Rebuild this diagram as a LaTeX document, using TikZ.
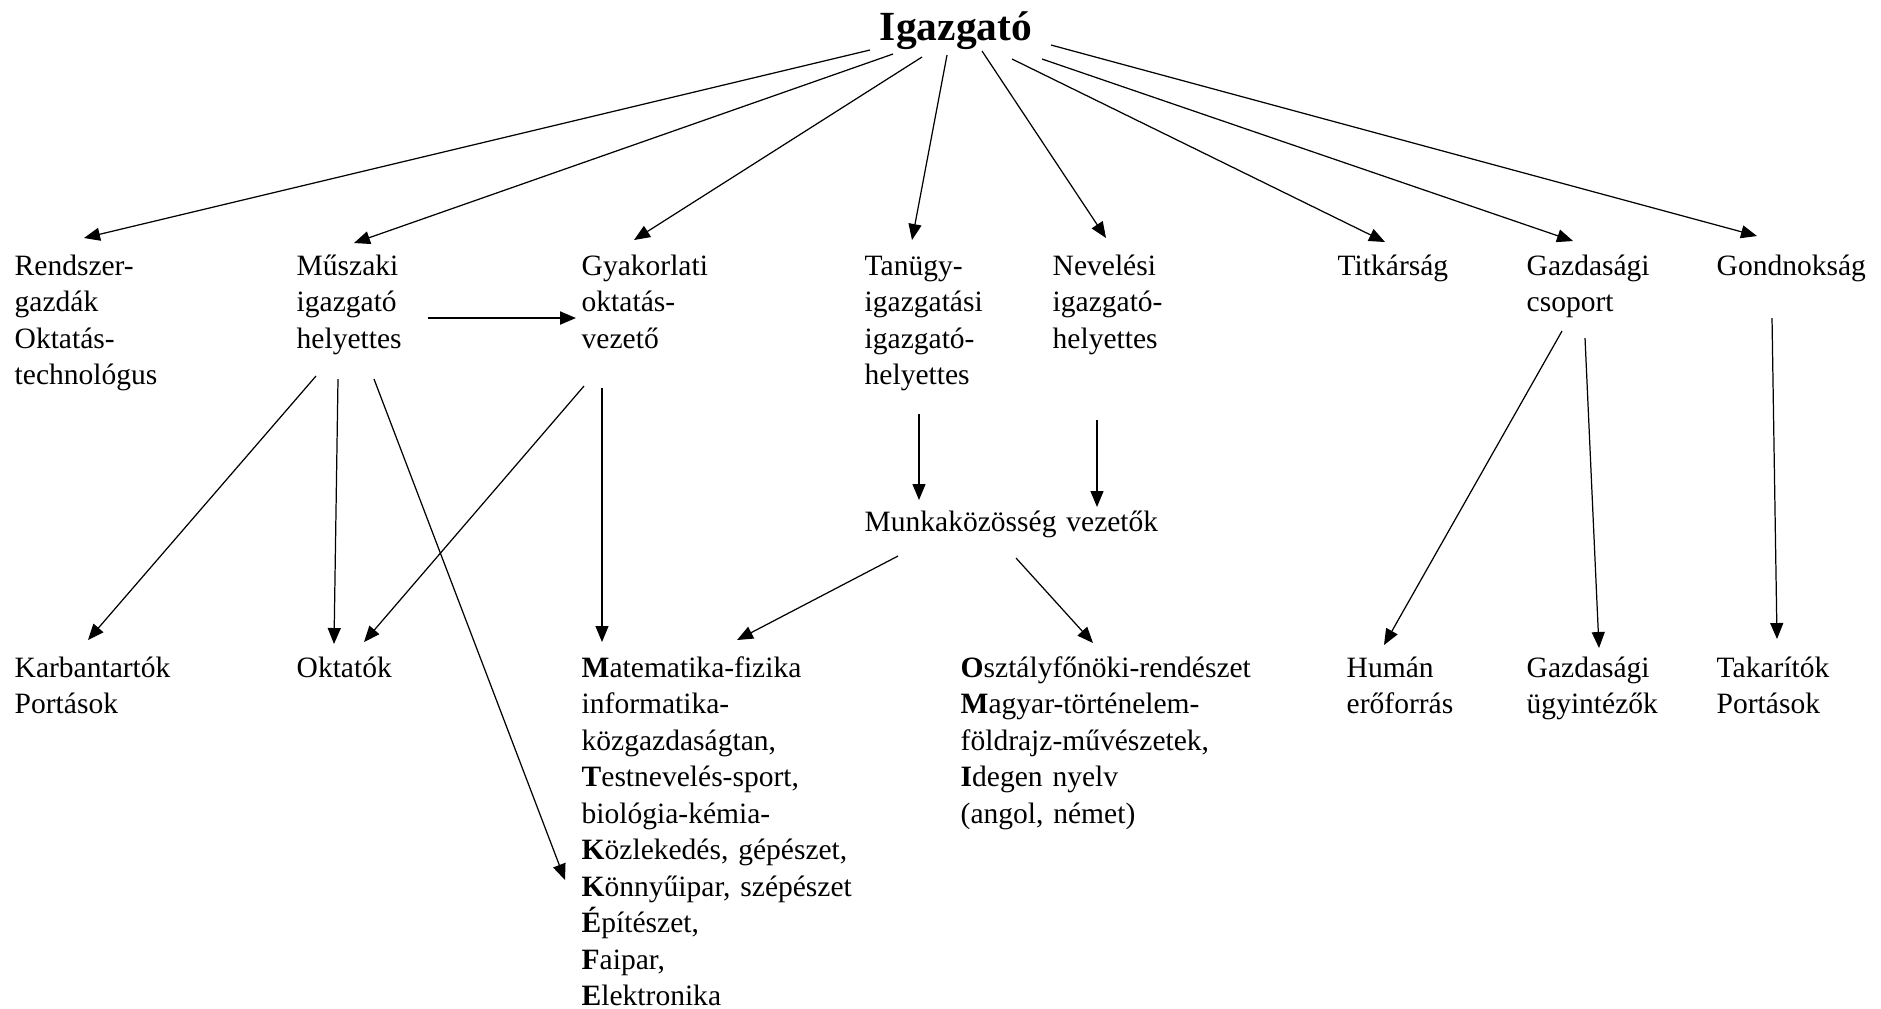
\documentclass[tikz,border=0pt]{standalone}
\usepackage{fontspec}
\setmainfont{Liberation Serif}
\usetikzlibrary{arrows.meta}

\begin{document}
\begin{tikzpicture}[
  x=0.1mm, y=-0.1mm,
  >={Triangle[length=1.6mm,width=1.3mm]},
  unit/.style={anchor=base west, align=left, text width=32mm, inner sep=0pt,
    font=\fontsize{8.4pt}{10.4pt}\selectfont},
  link/.style={->, line width=0.35pt}
]
\useasboundingbox (0,0) rectangle (1881,1008);
\node[anchor=base, inner sep=0pt, font=\fontsize{11.8pt}{14pt}\selectfont\bfseries]
  (igazgato) at (956,40) {Igazgató};
\node[unit] (rendszer) at (14,275) {Rendszer-\\gazdák\\Oktatás-\\technológus};
\node[unit] (muszaki) at (296,275) {Műszaki\\igazgató\\helyettes};
\node[unit] (gyakorlati) at (581,275) {Gyakorlati\\oktatás-\\vezető};
\node[unit] (tanugy) at (864,275) {Tanügy-\\igazgatási\\igazgató-\\helyettes};
\node[unit] (neveles) at (1052,275) {Nevelési\\igazgató-\\helyettes};
\node[unit] (titkarsag) at (1337,275) {Titkárság};
\node[unit] (gazdcsop) at (1526,275) {Gazdasági\\csoport};
\node[unit] (gondnok) at (1716,275) {Gondnokság};
\node[unit] (munkakoz) at (864,531) {Munkaközösség vezetők};
\node[unit] (karban) at (14,677) {Karbantartók\\Portások};
\node[unit] (oktatok) at (296,677) {Oktatók};
\node[unit] (szakmak) at (581,677)
  {\textbf{M}atematika-fizika\\informatika-\\közgazdaságtan,\\\textbf{T}estnevelés-sport,\\biológia-kémia-\\\textbf{K}özlekedés, gépészet,\\\textbf{K}önnyűipar, szépészet\\\textbf{É}pítészet,\\\textbf{F}aipar,\\\textbf{E}lektronika};
\node[unit] (osztaly) at (960,677)
  {\textbf{O}sztályfőnöki-rendészet\\\textbf{M}agyar-történelem-\\földrajz-művészetek,\\\textbf{I}degen nyelv\\(angol, német)};
\node[unit] (human) at (1346,677) {Humán\\erőforrás};
\node[unit] (ugyintez) at (1526,677) {Gazdasági\\ügyintézők};
\node[unit] (takarit) at (1716,677) {Takarítók\\Portások};
\draw[link] ([shift={(-86,10)}]igazgato.base) -- ([shift={(70,-37)}]rendszer.base west);
\draw[link] ([shift={(-63,14)}]igazgato.base) -- ([shift={(58,-32)}]muszaki.base west);
\draw[link] ([shift={(-34,17)}]igazgato.base) -- ([shift={(53,-35)}]gyakorlati.base west);
\draw[link] ([shift={(-9,15)}]igazgato.base) -- ([shift={(48,-35)}]tanugy.base west);
\draw[link] ([shift={(26,11)}]igazgato.base) -- ([shift={(54,-37)}]neveles.base west);
\draw[link] ([shift={(56,19)}]igazgato.base) -- ([shift={(48,-33)}]titkarsag.base west);
\draw[link] ([shift={(86,19)}]igazgato.base) -- ([shift={(47,-34)}]gazdcsop.base west);
\draw[link] ([shift={(95,5)}]igazgato.base) -- ([shift={(41,-39)}]gondnok.base west);
\draw[link, line width=0.6pt] ([shift={(132,43)}]muszaki.base west)
  -- ([shift={(-5,43)}]gyakorlati.base west);
\draw[link] ([shift={(20,101)}]muszaki.base west) -- ([shift={(74,-37)}]karban.base west);
\draw[link] ([shift={(42,104)}]muszaki.base west) -- ([shift={(38,-33)}]oktatok.base west);
\draw[link] ([shift={(78,104)}]muszaki.base west) -- ([shift={(-16,203)}]szakmak.base west);
\draw[link] ([shift={(3,111)}]gyakorlati.base west) -- ([shift={(68,-35)}]oktatok.base west);
\draw[link] ([shift={(21,113)}]gyakorlati.base west) -- ([shift={(21,-35)}]szakmak.base west);
\draw[link] ([shift={(55,139)}]tanugy.base west) -- ([shift={(55,-31)}]munkakoz.base west);
\draw[link] ([shift={(45,145)}]neveles.base west) -- ([shift={(233,-24)}]munkakoz.base west);
\draw[link] ([shift={(34,25)}]munkakoz.base west) -- ([shift={(156,-37)}]szakmak.base west);
\draw[link] ([shift={(152,27)}]munkakoz.base west) -- ([shift={(133,-34)}]osztaly.base west);
\draw[link] ([shift={(36,56)}]gazdcsop.base west) -- ([shift={(38,-32)}]human.base west);
\draw[link] ([shift={(59,63)}]gazdcsop.base west) -- ([shift={(73,-29)}]ugyintez.base west);
\draw[link] ([shift={(56,43)}]gondnok.base west) -- ([shift={(61,-38)}]takarit.base west);
\end{tikzpicture}
\end{document}
